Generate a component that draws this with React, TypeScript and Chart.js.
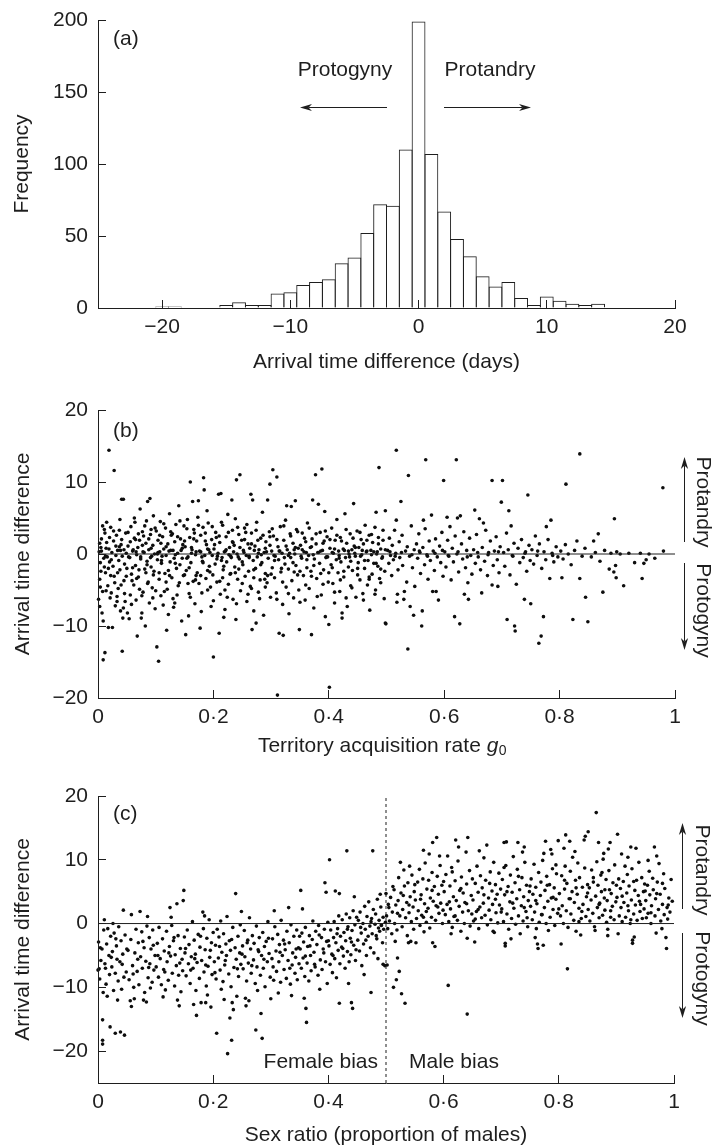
import React, { useEffect, useRef } from 'react';
import { Chart, registerables } from 'chart.js';

Chart.register(...registerables);

const FONT_FAMILY = '"Liberation Sans", Arial, Helvetica, sans-serif';
const FONT_SIZE = 21;
const INK = '#1e1e1e';
const DOT = '#0d0d0d';

// ---------------- data ----------------
const histBinCenters = [-20, -19, -18, -17, -16, -15, -14, -13, -12, -11, -10, -9, -8, -7, -6, -5, -4, -3, -2, -1, 0, 1, 2, 3, 4, 5, 6, 7, 8, 9, 10, 11, 12, 13, 14, 15, 16, 17, 18, 19];
const histCounts = [1, 1, 0, 0, 0, 2, 4, 2, 2, 10, 11, 16, 18, 20, 31, 35, 52, 72, 71, 110, 199, 107, 67, 48, 36, 22, 15, 18, 7, 2, 8, 5, 3, 2, 3, 0, 0, 0, 0, 0];
const histXTicks = [-20, -10, 0, 10, 20];
const histYTicks = [0, 50, 100, 150, 200];
const histXRange = [-25, 20];
const histYRange = [0, 200];

const rateTicks = [0, 0.2, 0.4, 0.6, 0.8, 1];
const diffTicks = [-20, -10, 0, 10, 20];
const diffRangeB = [-20, 20];
const diffRangeC = [-25, 20];
const zeroLine = [[0, 0], [1, 0]];
const evenSexRatioLine = [[0.5, -25], [0.5, 20]];

// (b) territory acquisition rate g0 vs arrival time difference
const panelBPoints = [
  [0.002,0.3],[0.004,-1.2],[0.006,2.1],[0.003,-3.5],[0.008,-5.2],[0.001,-6.3],[0.003,-7.3],[0.007,-8.2],[0.009,-9.3],[0.012,-13.7],[0.009,-14.7],[0.018,-10.2],[0.025,-10.2],[0.019,14.4],[0.028,11.6],[0.011,3.4],[0.014,0.8],[0.016,-0.4],[0.013,-2.6],[0.017,-4.4],[0.021,-6.1],[0.015,1.6],[0.022,3.7],[0.024,0.2],[0.026,-1.7],[0.028,-3.1],[0.023,-5.4],[0.03,-7.2],[0.032,2.6],[0.034,0.5],[0.036,-0.9],[0.038,-2.2],[0.035,-4.8],[0.041,7.6],[0.044,7.6],[0.04,1.3],[0.042,-0.3],[0.045,-3.7],[0.047,-6.6],[0.043,-8.9],[0.042,-13.5],[0.048,2.9],[0.049,0.1],[0.046,-1.4],[0.005,0.9],[0.01,-0.6],[0.02,-1.1],[0.027,1.8],[0.033,-5.9],[0.039,-7.9],[0.044,-7.5],[0.037,3.3],
  [0.051,-8.2],[0.054,-9],[0.052,1.1],[0.055,-0.5],[0.057,3.8],[0.058,-2.8],[0.06,0.4],[0.062,-4.3],[0.063,2.2],[0.065,-1.6],[0.066,-6.4],[0.068,-11.4],[0.069,0.9],[0.07,-3.2],[0.073,6.25],[0.072,1.9],[0.074,-0.7],[0.075,-8.9],[0.076,-8.2],[0.077,3.1],[0.078,-5.3],[0.08,0.2],[0.082,-10],[0.081,-2.1],[0.083,1.5],[0.084,4.6],[0.086,7.3],[0.085,-1.0],[0.087,-3.9],[0.088,0.6],[0.09,7.7],[0.089,-6.8],[0.091,2.7],[0.093,-0.3],[0.094,-4.7],[0.095,1.2],[0.096,5.3],[0.097,-2.4],[0.098,0.0],[0.099,-7.6],[0.056,-5.7],[0.064,4.4],[0.071,-2.2],[0.079,2.5],[0.092,-1.8],
  [0.102,-12.9],[0.105,-14.9],[0.101,3.2],[0.103,-0.8],[0.104,1.9],[0.106,-3.5],[0.107,0.3],[0.108,4.5],[0.109,-5.8],[0.11,-1.3],[0.112,2.4],[0.113,-7.1],[0.114,0.7],[0.116,-2.7],[0.117,3.6],[0.118,-0.2],[0.12,-4.9],[0.121,1.4],[0.122,-8.4],[0.124,5.6],[0.125,-1.1],[0.126,0.5],[0.128,-3.3],[0.129,2.8],[0.13,-6.2],[0.132,-0.6],[0.133,1.7],[0.135,4.1],[0.136,-2.0],[0.138,0.1],[0.139,-4.4],[0.14,6.7],[0.142,-1.5],[0.143,2.1],[0.145,-9.3],[0.146,0.8],[0.148,-3.0],[0.149,3.9],[0.119,-10.6],[0.131,-7.4],
  [0.152,-11.2],[0.16,10],[0.164,7.3],[0.174,7.4],[0.151,1.0],[0.153,-2.3],[0.155,4.8],[0.156,-0.4],[0.158,-5.5],[0.159,2.3],[0.161,-1.2],[0.163,0.6],[0.165,-3.8],[0.166,3.4],[0.168,-6.9],[0.169,-0.1],[0.171,1.8],[0.172,-2.6],[0.173,5.1],[0.175,-4.1],[0.176,0.4],[0.178,2.6],[0.179,-8.0],[0.181,-1.0],[0.183,10.6],[0.184,8.9],[0.182,3.7],[0.185,-0.2],[0.187,-3.4],[0.188,1.3],[0.19,-5.0],[0.191,4.3],[0.193,-1.7],[0.194,0.2],[0.196,-7.3],[0.197,2.0],[0.199,-2.9],[0.2,-14.3],[0.157,-8.6],[0.177,-10.3],[0.189,6.0],
  [0.21,-11],[0.209,8.3],[0.213,8.4],[0.232,7.5],[0.24,10.3],[0.246,11],[0.201,0.7],[0.203,-1.4],[0.204,3.0],[0.206,-3.9],[0.207,-0.3],[0.211,1.6],[0.212,-5.6],[0.214,-0.9],[0.216,4.0],[0.217,-2.2],[0.219,0.3],[0.22,-7.7],[0.222,2.4],[0.223,-1.1],[0.225,5.5],[0.226,-4.2],[0.228,0.9],[0.229,-2.8],[0.231,-0.5],[0.233,3.3],[0.234,-6.3],[0.236,1.2],[0.237,-1.8],[0.239,-9.1],[0.241,0.0],[0.242,-3.5],[0.244,2.7],[0.245,-0.7],[0.247,-5.1],[0.249,1.9],[0.218,-8.8],[0.238,4.9],
  [0.265,8.3],[0.268,7.5],[0.267,-10.5],[0.294,7.5],[0.298,9.7],[0.251,-1.5],[0.252,0.5],[0.254,3.6],[0.255,-3.1],[0.257,-0.2],[0.258,-6.6],[0.26,1.4],[0.261,-2.4],[0.263,0.8],[0.264,-4.5],[0.266,2.9],[0.269,-0.9],[0.27,-7.9],[0.272,1.1],[0.273,-2.0],[0.275,4.4],[0.276,-0.4],[0.278,-5.3],[0.279,0.6],[0.281,-3.6],[0.282,2.2],[0.284,-1.2],[0.285,5.8],[0.287,-8.5],[0.288,0.2],[0.29,-2.7],[0.291,1.7],[0.293,-4.0],[0.295,-0.6],[0.297,3.1],[0.299,-6.0],[0.274,-9.6],
  [0.303,11.7],[0.31,10.7],[0.311,-19.6],[0.314,-11],[0.321,-11.3],[0.327,6.7],[0.335,6.6],[0.342,7.4],[0.349,-10.5],[0.301,0.4],[0.302,-1.9],[0.304,2.5],[0.306,-3.3],[0.307,-0.3],[0.309,-5.4],[0.312,1.0],[0.313,-0.8],[0.316,3.8],[0.317,-2.5],[0.319,0.1],[0.32,-7.0],[0.322,1.9],[0.324,-1.4],[0.325,4.7],[0.326,-4.6],[0.328,0.6],[0.33,-2.1],[0.331,-8.3],[0.333,2.8],[0.334,-0.5],[0.336,-3.7],[0.338,1.5],[0.339,-6.1],[0.341,0.0],[0.343,-1.6],[0.344,3.4],[0.346,-2.9],[0.347,0.8],[0.348,-5.0],
  [0.372,7.5],[0.382,6.9],[0.377,11],[0.388,11.8],[0.393,5.9],[0.37,-11.2],[0.4,-9.8],[0.351,1.2],[0.353,-0.6],[0.354,2.9],[0.356,-3.0],[0.357,0.3],[0.359,-6.4],[0.36,1.7],[0.362,-1.9],[0.363,4.3],[0.365,-0.2],[0.366,-4.8],[0.368,0.9],[0.369,-2.4],[0.371,2.1],[0.374,-7.5],[0.375,-0.7],[0.378,1.4],[0.379,-3.4],[0.381,0.2],[0.384,-1.3],[0.385,3.0],[0.387,-5.7],[0.389,0.5],[0.391,-2.2],[0.392,1.8],[0.394,-8.7],[0.396,-0.4],[0.397,2.4],[0.399,-3.9],
  [0.401,-18.5],[0.443,7],[0.423,-8.2],[0.423,-8.9],[0.402,0.8],[0.404,-1.5],[0.405,3.6],[0.407,-4.1],[0.408,0.1],[0.41,-6.8],[0.411,1.9],[0.413,-0.8],[0.414,4.8],[0.416,-2.6],[0.417,0.4],[0.419,-5.2],[0.42,2.3],[0.421,-1.1],[0.425,0.7],[0.426,-3.2],[0.428,5.6],[0.429,-0.5],[0.431,1.5],[0.432,-7.3],[0.434,-1.8],[0.435,0.0],[0.437,2.8],[0.438,-4.4],[0.44,0.6],[0.441,-2.3],[0.444,1.1],[0.446,-0.3],[0.447,-6.0],[0.449,3.2],
  [0.487,12],[0.498,6],[0.482,5.8],[0.498,-9.6],[0.499,-9.7],[0.451,-1.2],[0.452,0.9],[0.454,-3.6],[0.456,2.0],[0.457,-0.1],[0.459,-5.5],[0.46,1.4],[0.462,-2.0],[0.463,4.0],[0.465,0.3],[0.467,-4.3],[0.468,-0.9],[0.47,2.6],[0.471,-7.8],[0.473,0.5],[0.475,-2.8],[0.476,1.6],[0.478,-1.3],[0.48,3.7],[0.481,-5.0],[0.483,0.0],[0.485,-1.7],[0.486,2.3],[0.488,-3.4],[0.49,0.7],[0.492,-0.6],[0.494,1.9],[0.496,-6.2],[0.497,-2.4],
  [0.517,14.4],[0.538,10.9],[0.525,7.3],[0.517,4.7],[0.537,-13.2],[0.547,-8.5],[0.541,-7.3],[0.53,-6.3],[0.531,-5.2],[0.518,-6.7],[0.519,-5.6],[0.502,0.5],[0.504,-1.3],[0.505,2.2],[0.507,-0.2],[0.509,-3.0],[0.51,1.2],[0.512,-0.8],[0.514,3.3],[0.516,0.1],[0.52,-2.2],[0.522,1.7],[0.523,-0.5],[0.527,2.6],[0.528,-1.6],[0.533,0.4],[0.535,-3.9],[0.536,1.0],[0.54,-0.3],[0.543,3.9],[0.545,-1.9],[0.548,0.6],[0.549,-4.5],
  [0.568,13.1],[0.599,10.2],[0.564,4.7],[0.561,-10],[0.562,-7.9],[0.58,-5.2],[0.586,-5.2],[0.552,1.4],[0.554,-0.6],[0.556,2.8],[0.558,0.2],[0.559,-2.7],[0.563,0.9],[0.566,-1.5],[0.567,3.5],[0.57,-0.1],[0.572,-3.5],[0.574,1.8],[0.576,-0.9],[0.578,5.4],[0.581,0.4],[0.583,-2.3],[0.585,2.1],[0.588,-0.4],[0.59,-6.4],[0.592,1.1],[0.594,-1.2],[0.596,3.0],[0.598,-3.1],
  [0.621,13.1],[0.605,5.1],[0.623,5],[0.628,5.3],[0.618,-8.7],[0.627,-9.7],[0.635,-5.6],[0.642,-6.3],[0.653,6.1],[0.601,0.3],[0.603,-1.8],[0.606,1.9],[0.608,-0.3],[0.61,3.8],[0.612,-3.6],[0.614,0.8],[0.616,-1.1],[0.619,2.5],[0.622,0.0],[0.625,-2.5],[0.63,1.4],[0.632,-0.7],[0.634,3.1],[0.637,-1.9],[0.639,0.5],[0.641,-4.0],[0.644,2.2],[0.646,-0.2],[0.648,-2.8],
  [0.683,10.2],[0.668,4.3],[0.665,-5.4],[0.683,-4.3],[0.693,-4.5],[0.699,7.2],[0.651,0.6],[0.654,-1.3],[0.656,2.7],[0.659,-0.4],[0.661,4.9],[0.663,-2.2],[0.666,0.9],[0.67,-1.0],[0.672,3.3],[0.675,-3.0],[0.677,0.2],[0.68,1.8],[0.685,-1.6],[0.687,0.4],[0.69,2.4],[0.692,-0.8],[0.695,-2.6],[0.697,1.0],
  [0.701,10.2],[0.712,6],[0.709,-9.1],[0.722,-10],[0.723,-10.7],[0.739,-6.3],[0.745,8.2],[0.75,-6.9],[0.703,0.2],[0.705,-1.7],[0.708,2.9],[0.711,0.6],[0.714,-2.9],[0.716,3.9],[0.719,-0.3],[0.721,1.5],[0.725,-4.2],[0.728,0.8],[0.731,-1.2],[0.734,2.0],[0.737,-0.5],[0.741,0.3],[0.743,-2.4],[0.747,1.2],[0.749,-0.9],
  [0.764,-12.4],[0.768,-11.4],[0.772,-8.7],[0.777,3.8],[0.785,4.7],[0.783,-3.4],[0.752,0.6],[0.755,-1.4],[0.758,2.5],[0.761,-0.2],[0.765,1.4],[0.769,-2.0],[0.773,0.3],[0.776,-0.8],[0.78,2.0],[0.787,0.1],[0.79,-1.1],[0.794,1.0],[0.797,-0.4],
  [0.811,9.7],[0.835,13.9],[0.804,-3.3],[0.823,-9.1],[0.835,-3.4],[0.845,-6],[0.849,-9.4],[0.802,0.4],[0.806,-0.7],[0.81,1.3],[0.815,0.0],[0.82,-1.5],[0.826,0.5],[0.83,1.8],[0.839,-0.3],[0.844,0.8],
  [0.859,1.8],[0.867,2.8],[0.875,-5.3],[0.886,-2.1],[0.894,-2.5],[0.898,-3.3],[0.897,-1.6],[0.895,4.9],[0.855,-0.4],[0.862,0.2],[0.87,-1.0],[0.878,0.5],[0.889,0.1],[0.899,0.3],
  [0.911,-4.4],[0.905,0.0],[0.92,0.1],[0.943,-3.4],[0.946,-1.3],[0.95,-0.8],[0.94,0.1],[0.955,0.0],[0.979,9.2],[0.98,0.4],[0.965,-0.6],[0.93,-1.2],
  [0.006,0.4],[0.013,-0.3],[0.019,0.7],[0.031,-0.2],[0.039,0.5],[0.053,-0.4],[0.061,0.6],[0.067,-0.1],[0.078,0.3],[0.091,-0.5],[0.104,0.2],[0.111,-0.3],[0.123,0.4],[0.134,-0.1],[0.144,0.5],[0.154,-0.6],[0.162,0.1],[0.17,0.3],[0.18,-0.4],[0.192,0.6],[0.198,-0.2],[0.208,0.1],[0.215,-0.5],[0.221,0.4],[0.227,-0.1],[0.235,0.3],[0.243,-0.4],[0.253,0.2],[0.262,-0.3],[0.271,0.5],[0.283,-0.1],[0.292,0.3],[0.305,-0.2],[0.315,0.4],[0.323,-0.5],[0.332,0.1],[0.34,0.6],[0.352,-0.3],[0.361,0.2],[0.373,-0.1],[0.386,0.4],[0.395,-0.5],[0.406,0.2],[0.418,-0.2],[0.427,0.5],[0.436,-0.4],[0.445,0.1],[0.455,-0.3],[0.466,0.4],[0.474,-0.1],[0.484,0.3],[0.493,-0.4],[0.506,0.3],[0.515,-0.3],[0.526,0.2],[0.544,-0.1],[0.557,0.4],[0.571,-0.3],[0.584,0.1],[0.597,0.5],[0.607,-0.2],[0.624,0.3],[0.64,-0.4],[0.658,0.2],[0.676,-0.1],[0.694,0.3],[0.718,-0.2],[0.74,0.1],[0.762,0.4],[0.788,-0.2],
  [0.004,-4.6],[0.012,2.9],[0.018,-2.0],[0.029,-4.0],[0.037,1.0],[0.046,-5.5],[0.059,-3.7],[0.065,2.0],[0.072,-4.9],[0.083,-2.6],[0.092,3.4],[0.1,-5.1],[0.109,1.5],[0.118,-3.9],[0.127,2.6],[0.137,-5.7],[0.147,1.3],[0.156,-4.1],[0.167,2.9],[0.178,-3.0],[0.186,1.8],[0.195,-4.6],[0.205,2.3],[0.216,-3.3],[0.224,-6.0],[0.233,1.7],[0.244,-2.1],[0.256,3.0],[0.266,-4.8],[0.277,1.9],[0.289,-3.5],[0.298,2.4],
  [0.003,1.5],[0.008,3.9],[0.011,-1.8],[0.015,4.4],[0.02,2.3],[0.023,-0.8],[0.027,3.2],[0.031,1.1],[0.034,-2.6],[0.038,4.8],[0.041,2.0],[0.045,0.6],[0.049,-3.1],[0.052,3.0],[0.056,1.7],[0.06,-1.9],[0.063,5.0],[0.066,0.3],[0.07,2.8],[0.074,-0.4],[0.077,1.2],[0.081,3.9],[0.085,-1.5],[0.088,2.1],[0.092,0.8],[0.096,-2.9],[0.099,3.6],[0.103,0.0],[0.107,2.6],[0.11,-0.9],[0.114,4.2],[0.118,1.0],[0.122,-2.3],[0.126,3.1],[0.13,0.5],[0.134,-1.3],[0.138,2.4],[0.142,4.6],[0.146,-0.6],[0.15,1.8],[0.154,3.5],[0.158,-1.9],[0.162,0.9],[0.166,2.1],[0.17,-3.0],[0.174,4.0],[0.178,0.3],[0.182,-1.2],[0.186,2.9],[0.19,0.7],[0.194,-2.5],[0.198,3.8],[0.202,1.3],[0.206,-0.7],[0.21,2.5],[0.214,4.4],[0.218,-1.7],[0.222,0.6],[0.226,3.0],[0.23,-0.3],[0.234,1.6],[0.238,-2.6],[0.242,3.7],[0.246,0.9],[0.25,-1.1],[0.254,2.0],[0.258,4.1],[0.262,-0.5],[0.266,1.4],[0.27,-2.2],[0.274,3.3],[0.278,0.1],[0.282,-1.5],[0.286,2.6],[0.29,0.8],[0.294,-3.0],[0.298,1.2],[0.302,3.5],[0.306,-0.9],[0.31,2.0],[0.314,0.4],[0.318,-2.0],[0.322,3.9],[0.326,1.1],[0.33,-0.2],[0.334,2.5],[0.338,-1.2],[0.342,0.9],[0.346,3.1],[0.35,-2.4],[0.354,0.6],[0.358,2.2],[0.362,-0.8],[0.366,3.6],[0.37,1.0],[0.374,-1.6],[0.378,2.8],[0.382,0.2],[0.386,-2.7],[0.39,1.5],[0.394,3.2],[0.398,-0.4],[0.402,2.0],[0.406,-1.9],[0.41,0.7],[0.414,2.6],[0.418,-0.6],[0.422,1.8],[0.426,-2.4],[0.43,3.4],[0.434,0.4],[0.438,-1.0],[0.442,2.2],[0.446,0.9],[0.45,-2.0],[0.454,3.0],[0.458,0.5],[0.462,-0.9],[0.466,1.9],[0.47,-3.2],[0.474,2.7],[0.478,0.3],[0.482,-1.3],[0.486,1.4],[0.49,-2.1],[0.494,3.3],[0.498,0.6],
  [0.005,-2.4],[0.014,-5.1],[0.022,-3.0],[0.033,-6.6],[0.04,-4.3],[0.05,-2.0],[0.058,-7.0],[0.067,-3.4],[0.076,-5.8],[0.086,-4.1],[0.095,-6.1],[0.106,-2.6],[0.115,-5.2],[0.124,-3.0],[0.133,-6.8],[0.141,-4.0],[0.15,-2.9],[0.16,-6.0],[0.169,-3.6],[0.18,-5.4],[0.19,-2.3],[0.2,-6.5],[0.211,-3.8],[0.22,-5.0],[0.23,-2.7],[0.24,-6.9],[0.25,-4.1],[0.26,-5.6],[0.27,-3.3],[0.28,-6.2],[0.29,-4.6],[0.3,-2.8],[0.31,-6.3],[0.32,-3.9],[0.33,-5.5],[0.34,-2.5],[0.35,-6.7],[0.36,-4.3],[0.37,-3.1],[0.38,-5.9],[0.39,-4.2],[0.4,-2.6],[0.41,-5.3],[0.42,-3.6],[0.43,-6.1],[0.44,-4.7],[0.45,-2.9],[0.46,-6.4],[0.47,-3.5],[0.48,-5.6],[0.49,-4.0],
];

// (c) sex ratio (proportion of males) vs arrival time difference
const panelCPoints = [
  [0.008,-18.3],[0.008,-18.9],[0.008,-15.1],[0.021,-16.2],[0.03,-17.2],[0.039,-17],[0.046,-17.5],[0.001,-2.9],[0.002,-7.1],[0.0,-7.3],[0.003,-8.7],[0.009,-10.8],[0.011,0.6],[0.044,2.1],[0.005,-5.8],[0.007,-4.0],[0.01,-1.0],[0.012,-6.3],[0.014,-9.5],[0.015,-3.2],[0.017,-0.8],[0.019,-5.0],[0.02,-8.0],[0.022,-2.0],[0.024,-6.8],[0.025,-4.4],[0.027,-10.5],[0.028,-1.5],[0.03,-7.8],[0.032,-3.5],[0.033,-5.6],[0.035,-9.0],[0.036,-0.5],[0.038,-6.0],[0.04,-2.7],[0.041,-10.3],[0.043,-4.8],[0.045,-8.4],[0.047,-1.8],[0.049,-7.6],[0.016,-11.4],[0.026,0.0],[0.034,-12.0],
  [0.058,1.4],[0.073,1.9],[0.086,1.1],[0.056,-12.1],[0.058,-13],[0.084,-12.3],[0.079,-12],[0.052,-4.2],[0.054,-8.8],[0.057,-2.5],[0.06,-6.6],[0.062,-10.0],[0.064,-4.6],[0.066,-0.9],[0.068,-7.5],[0.07,-3.0],[0.071,-9.6],[0.074,-5.2],[0.076,-1.3],[0.077,-7.0],[0.08,-3.8],[0.081,-10.8],[0.083,-5.9],[0.085,-0.4],[0.087,-8.5],[0.089,-2.2],[0.09,-6.3],[0.092,-4.0],[0.094,-9.2],[0.095,-1.0],[0.097,-7.3],[0.099,-5.0],[0.063,-11.8],[0.091,-10.1],
  [0.125,2.5],[0.137,3.1],[0.149,5.2],[0.148,3.6],[0.138,-12],[0.141,-12.9],[0.101,-6.8],[0.103,-3.1],[0.105,-8.4],[0.106,-0.6],[0.108,-5.5],[0.11,-9.6],[0.112,-2.4],[0.114,-7.2],[0.115,-4.3],[0.117,-10.4],[0.119,-1.2],[0.12,-6.0],[0.122,-8.9],[0.124,-3.6],[0.126,-5.1],[0.128,-0.3],[0.129,-7.8],[0.131,-2.7],[0.133,-9.8],[0.134,-4.9],[0.136,-6.6],[0.139,-1.9],[0.14,-8.1],[0.143,-3.9],[0.144,-10.7],[0.146,-5.6],[0.147,-7.4],[0.15,-2.1],[0.113,-11.5],[0.127,1.0],
  [0.171,-14.4],[0.182,1.8],[0.179,-12.4],[0.187,-12.4],[0.196,-13.1],[0.19,-11.2],[0.151,-4.6],[0.153,-8.2],[0.155,-1.0],[0.157,-6.3],[0.158,-3.3],[0.16,-9.4],[0.162,-5.2],[0.164,0.3],[0.165,-7.0],[0.167,-2.6],[0.169,-4.8],[0.17,-10.5],[0.172,-6.1],[0.174,-1.7],[0.176,-8.6],[0.177,-3.7],[0.18,-5.8],[0.183,-0.8],[0.184,-7.6],[0.186,-4.1],[0.188,-9.8],[0.189,-2.3],[0.191,-6.7],[0.193,0.6],[0.194,-5.3],[0.197,-3.0],[0.198,-8.0],[0.2,-1.4],[0.166,-12.7],[0.185,1.2],
  [0.206,-17.2],[0.225,-20.4],[0.232,-18.3],[0.235,-13.5],[0.233,-12.4],[0.241,-11.4],[0.214,-10.3],[0.239,4.7],[0.249,1.9],[0.202,-6.0],[0.204,-3.4],[0.205,-8.7],[0.207,-0.9],[0.209,-5.4],[0.21,-2.1],[0.212,-7.3],[0.213,0.4],[0.215,-4.5],[0.217,-9.1],[0.218,-1.6],[0.22,-6.5],[0.222,-3.2],[0.223,-5.0],[0.224,1.1],[0.227,-7.9],[0.228,-2.7],[0.23,-4.2],[0.231,-9.9],[0.234,-0.6],[0.236,-6.9],[0.238,-3.8],[0.24,-5.6],[0.243,-2.0],[0.244,-8.3],[0.246,-4.6],[0.247,-0.2],[0.248,-6.4],[0.219,-11.9],[0.229,-14.8],
  [0.256,-11.7],[0.257,-12.9],[0.274,-16.7],[0.285,-18],[0.283,-14.1],[0.277,-10.5],[0.3,-11.8],[0.251,-3.5],[0.252,-7.1],[0.254,-1.1],[0.255,-5.2],[0.258,-9.0],[0.26,-2.6],[0.261,-6.2],[0.263,0.9],[0.265,-4.0],[0.266,-7.8],[0.268,-1.9],[0.27,-5.7],[0.271,-3.1],[0.273,-9.4],[0.275,-0.4],[0.276,-6.8],[0.279,-4.4],[0.28,-2.2],[0.282,-8.1],[0.284,-5.0],[0.286,-1.4],[0.287,-7.0],[0.289,-3.6],[0.29,-9.9],[0.292,-2.8],[0.294,-6.0],[0.295,0.3],[0.297,-4.7],[0.299,-8.4],[0.262,-12.1],
  [0.306,2],[0.331,2.5],[0.302,-5.5],[0.303,-2.4],[0.305,-8.9],[0.307,-0.5],[0.309,-4.3],[0.31,-7.5],[0.312,-1.7],[0.314,-6.0],[0.315,-3.3],[0.317,-9.2],[0.318,0.5],[0.32,-5.0],[0.322,-2.6],[0.323,-7.2],[0.325,-4.1],[0.327,-8.6],[0.328,-1.2],[0.33,-5.8],[0.332,-3.0],[0.334,-9.5],[0.335,-0.2],[0.337,-6.5],[0.338,-4.6],[0.34,-2.0],[0.342,-7.8],[0.343,-5.3],[0.345,-1.0],[0.346,-8.8],[0.348,-3.8],[0.349,-6.3],[0.313,-10.9],[0.336,-11.3],
  [0.352,5.2],[0.355,2.3],[0.394,6.4],[0.396,4.9],[0.361,-13.3],[0.358,-11.7],[0.362,-15.5],[0.385,-10.3],[0.351,-4.0],[0.353,-7.0],[0.354,-1.5],[0.356,-5.4],[0.357,-2.9],[0.359,-8.3],[0.36,-0.6],[0.363,-6.2],[0.364,-3.6],[0.366,-9.0],[0.367,-1.9],[0.369,-5.0],[0.37,-7.4],[0.372,-2.5],[0.373,0.4],[0.375,-4.5],[0.377,-6.8],[0.378,-1.2],[0.38,-3.3],[0.382,-8.1],[0.383,-0.3],[0.386,-5.7],[0.388,-2.2],[0.389,-7.2],[0.391,-4.0],[0.393,-0.9],[0.395,-6.0],[0.397,-2.8],[0.398,-9.4],[0.399,0.2],
  [0.402,10],[0.412,5.1],[0.419,4.7],[0.432,11.4],[0.445,4.2],[0.419,-12.5],[0.44,-12.4],[0.442,-13.3],[0.401,-3.5],[0.403,-6.4],[0.404,-1.0],[0.406,-4.8],[0.407,-7.7],[0.409,-2.2],[0.41,0.3],[0.411,-5.5],[0.413,-3.0],[0.414,-8.5],[0.416,-0.8],[0.417,-4.2],[0.418,1.2],[0.42,-6.3],[0.421,-2.0],[0.423,-3.7],[0.424,0.6],[0.426,-5.1],[0.427,-1.4],[0.429,-7.0],[0.43,-2.7],[0.431,1.5],[0.433,-4.4],[0.434,-0.5],[0.436,-6.0],[0.437,0.9],[0.438,-2.3],[0.439,-4.9],[0.441,-1.1],[0.443,2.0],[0.444,-3.4],[0.446,-0.2],[0.447,-5.8],[0.449,1.0],[0.435,-9.4],
  [0.477,11.4],[0.49,4.6],[0.5,4.7],[0.474,-10.8],[0.451,-2.6],[0.452,0.5],[0.454,-4.3],[0.455,1.8],[0.457,-1.5],[0.458,-6.6],[0.46,0.0],[0.461,-3.2],[0.463,2.7],[0.464,-0.9],[0.466,-5.0],[0.467,1.1],[0.469,-2.0],[0.47,3.4],[0.472,-0.4],[0.473,-3.8],[0.475,0.8],[0.476,-1.6],[0.478,2.2],[0.479,-4.6],[0.481,-0.1],[0.482,1.5],[0.484,-2.4],[0.485,3.8],[0.487,-0.7],[0.488,0.5],[0.489,-1.2],[0.491,2.6],[0.492,-0.3],[0.494,-3.0],[0.495,1.0],[0.496,-0.9],[0.498,-6.6],[0.499,0.2],[0.462,-8.0],[0.486,-5.5],
  [0.533,-12.5],[0.527,-11],[0.513,-10],[0.518,-8.8],[0.523,-7.5],[0.52,-5.4],[0.502,-6.5],[0.495,-6.4],[0.539,-3],[0.543,-2.8],[0.552,-3],[0.501,1.2],[0.503,-0.8],[0.505,2.5],[0.506,0.4],[0.508,4.1],[0.51,-1.6],[0.511,1.8],[0.514,5.3],[0.515,0.0],[0.517,2.9],[0.519,-1.0],[0.521,3.6],[0.522,7.2],[0.524,1.2],[0.526,4.8],[0.528,-0.5],[0.529,2.2],[0.531,8.4],[0.532,5.9],[0.534,0.9],[0.536,3.3],[0.537,-1.9],[0.538,6.4],[0.54,1.7],[0.541,9.0],[0.542,4.2],[0.544,0.3],[0.545,7.6],[0.547,2.6],[0.548,-0.9],[0.549,5.0],[0.516,-2.8],[0.525,9.6],
  [0.565,11.5],[0.581,12.7],[0.588,13.5],[0.593,10.6],[0.581,-3],[0.585,-3.6],[0.566,-1.3],[0.551,3.7],[0.553,0.8],[0.555,6.5],[0.556,2.0],[0.558,8.5],[0.559,-0.3],[0.561,4.5],[0.562,1.3],[0.564,7.0],[0.567,3.1],[0.568,9.5],[0.57,0.2],[0.571,5.4],[0.573,2.4],[0.574,6.8],[0.576,-0.7],[0.577,4.0],[0.579,1.0],[0.58,8.0],[0.582,3.5],[0.584,5.8],[0.586,0.5],[0.587,2.8],[0.589,7.4],[0.591,4.6],[0.592,1.6],[0.594,9.1],[0.595,3.2],[0.597,6.0],[0.598,0.0],[0.599,2.1],[0.575,10.9],
  [0.607,10.6],[0.621,13.1],[0.642,13.5],[0.608,-9.7],[0.641,-14.2],[0.641,-2.3],[0.601,5.0],[0.603,1.4],[0.604,7.7],[0.606,3.0],[0.609,0.3],[0.611,5.9],[0.612,2.3],[0.614,8.8],[0.615,-0.6],[0.617,4.2],[0.618,1.1],[0.62,6.7],[0.622,3.6],[0.624,0.5],[0.625,9.8],[0.627,2.7],[0.628,5.2],[0.63,-1.2],[0.631,7.3],[0.633,1.8],[0.634,4.8],[0.636,0.0],[0.637,3.3],[0.639,11.2],[0.64,6.2],[0.643,2.0],[0.645,8.3],[0.646,-0.4],[0.648,4.4],[0.649,1.5],[0.613,-1.6],[0.626,12.0],
  [0.675,12.3],[0.654,-2.9],[0.651,3.7],[0.652,0.4],[0.655,6.3],[0.657,1.9],[0.658,9.0],[0.66,4.9],[0.661,-0.8],[0.663,2.6],[0.664,7.5],[0.666,0.9],[0.667,5.6],[0.669,3.2],[0.67,10.3],[0.672,1.3],[0.673,6.8],[0.676,-0.2],[0.678,4.0],[0.679,2.1],[0.681,8.1],[0.682,0.6],[0.684,5.1],[0.685,3.0],[0.687,9.6],[0.688,-1.4],[0.69,6.1],[0.691,1.7],[0.693,4.6],[0.694,0.1],[0.696,7.9],[0.697,2.9],[0.699,5.4],[0.662,11.4],[0.686,-1.2],
  [0.705,12.7],[0.709,12.8],[0.729,12.7],[0.74,12],[0.707,-3.1],[0.707,-3.5],[0.701,2.3],[0.702,6.9],[0.704,0.3],[0.706,4.5],[0.708,9.1],[0.71,1.5],[0.712,5.8],[0.713,-0.9],[0.715,3.4],[0.716,7.6],[0.718,0.8],[0.719,4.9],[0.721,10.5],[0.722,2.4],[0.724,6.4],[0.725,-0.1],[0.727,3.9],[0.728,8.5],[0.73,1.2],[0.732,5.3],[0.733,-1.6],[0.735,2.8],[0.736,7.2],[0.738,0.4],[0.739,4.2],[0.741,9.6],[0.743,1.9],[0.744,6.0],[0.746,-0.5],[0.747,3.6],[0.749,5.0],[0.717,-2.4],[0.737,11.2],
  [0.777,12.9],[0.799,13],[0.774,11],[0.788,10.9],[0.764,-3.9],[0.773,-3.4],[0.763,-3.2],[0.751,2.7],[0.752,7.0],[0.754,0.6],[0.755,4.6],[0.757,9.3],[0.758,1.8],[0.76,5.7],[0.761,-0.8],[0.762,3.1],[0.765,8.0],[0.766,0.2],[0.768,4.4],[0.769,6.5],[0.771,1.4],[0.772,9.9],[0.775,2.5],[0.776,5.2],[0.778,0.0],[0.779,7.4],[0.781,3.5],[0.782,-1.1],[0.784,6.1],[0.785,1.0],[0.787,4.0],[0.789,8.6],[0.79,2.2],[0.792,5.6],[0.793,-0.3],[0.795,3.8],[0.796,7.8],[0.798,1.6],[0.759,-2.2],[0.786,11.6],
  [0.812,13.9],[0.819,12.9],[0.844,13.1],[0.851,14.4],[0.846,13.7],[0.809,11.8],[0.804,-3.2],[0.815,-7.1],[0.838,-1.8],[0.801,4.7],[0.803,1.2],[0.805,7.5],[0.806,2.8],[0.808,0.0],[0.81,5.4],[0.811,9.0],[0.813,2.0],[0.814,6.3],[0.816,-0.6],[0.818,3.9],[0.82,8.2],[0.821,1.5],[0.823,5.0],[0.824,10.4],[0.826,0.5],[0.827,3.3],[0.829,6.8],[0.83,-1.2],[0.832,4.6],[0.833,9.5],[0.835,2.4],[0.836,7.2],[0.839,0.8],[0.841,5.7],[0.842,3.0],[0.845,8.7],[0.847,1.1],[0.848,4.2],[0.85,6.1],[0.828,11.3],
  [0.865,17.4],[0.869,12.7],[0.889,12.7],[0.902,14],[0.886,11.7],[0.863,-1.1],[0.885,-1.9],[0.885,-0.9],[0.851,2.2],[0.853,5.6],[0.854,0.4],[0.856,3.7],[0.857,8.4],[0.859,1.6],[0.86,6.5],[0.862,-0.5],[0.864,4.3],[0.866,9.7],[0.867,2.5],[0.868,6.0],[0.87,0.9],[0.871,3.2],[0.873,7.6],[0.874,5.0],[0.876,1.3],[0.877,10.1],[0.879,4.0],[0.88,2.1],[0.882,6.9],[0.883,0.2],[0.884,3.6],[0.887,8.3],[0.888,5.3],[0.89,1.0],[0.891,4.7],[0.893,2.7],[0.894,6.4],[0.896,0.6],[0.897,9.2],[0.899,3.4],[0.878,11.0],
  [0.909,10.9],[0.925,12],[0.934,11.8],[0.928,-3.1],[0.928,-2.6],[0.931,-2.1],[0.903,-1.6],[0.901,4.1],[0.904,7.0],[0.905,1.2],[0.907,5.5],[0.908,2.5],[0.91,0.3],[0.912,6.6],[0.913,3.3],[0.915,9.0],[0.916,1.0],[0.918,4.8],[0.919,7.7],[0.921,2.0],[0.922,5.9],[0.924,0.0],[0.926,3.7],[0.927,8.6],[0.93,1.5],[0.932,5.2],[0.933,2.9],[0.935,6.8],[0.936,0.5],[0.938,4.4],[0.939,9.6],[0.941,1.9],[0.942,3.0],[0.944,7.2],[0.945,0.8],[0.947,5.0],[0.948,2.3],[0.949,6.2],[0.92,10.4],
  [0.966,12],[0.97,10.6],[0.987,-3.9],[0.951,3.6],[0.952,0.9],[0.954,6.0],[0.955,1.6],[0.957,8.2],[0.958,4.5],[0.96,0.0],[0.961,2.8],[0.963,7.1],[0.964,5.3],[0.967,1.2],[0.968,3.9],[0.969,-1.5],[0.971,6.5],[0.973,2.2],[0.974,9.4],[0.976,4.6],[0.977,0.4],[0.979,-0.8],[0.98,3.0],[0.982,7.8],[0.983,1.4],[0.984,5.5],[0.986,-2.2],[0.988,2.5],[0.989,0.7],[0.991,4.0],[0.993,1.8],[0.995,6.9],[0.997,3.5],
  [0.004,-3.8],[0.013,-7.0],[0.023,-5.3],[0.031,-2.4],[0.042,-6.4],[0.05,-4.0],[0.061,-7.9],[0.069,-5.6],[0.078,-2.8],[0.088,-6.9],[0.096,-3.4],[0.104,-5.0],[0.116,-7.6],[0.123,-4.6],[0.132,-2.2],[0.142,-6.2],[0.152,-3.9],[0.161,-7.3],[0.168,-5.5],[0.178,-2.0],[0.187,-6.5],[0.195,-4.2],[0.203,-7.7],[0.211,-3.6],[0.221,-5.8],[0.232,-2.5],[0.242,-7.1],[0.25,-4.8],[0.259,-3.0],[0.267,-6.6],[0.278,-4.1],[0.288,-5.6],[0.296,-2.3],[0.304,-6.8],[0.316,-4.5],[0.324,-3.2],[0.333,-7.0],[0.344,-4.0],[0.35,-2.0],[0.36,-5.1],[0.368,-3.5],[0.376,-6.4],[0.384,-1.8],[0.392,-4.6],[0.4,-2.7],[0.408,-5.0],[0.415,-1.6],[0.425,-3.9],[0.433,-0.9],[0.44,-2.9],[0.448,-4.1],[0.456,-0.6],[0.465,-2.6],[0.474,0.3],[0.483,-1.9],[0.492,-0.2],
  [0.504,3.0],[0.512,5.8],[0.52,1.6],[0.53,4.4],[0.54,2.9],[0.55,6.1],[0.56,3.8],[0.57,1.9],[0.58,5.2],[0.59,2.6],[0.6,6.6],[0.61,3.4],[0.62,1.2],[0.63,5.5],[0.64,3.1],[0.65,7.0],[0.66,2.2],[0.67,4.5],[0.68,6.3],[0.69,3.8],[0.7,1.8],[0.71,5.0],[0.72,3.2],[0.73,7.4],[0.74,2.5],[0.75,5.9],[0.76,3.6],[0.77,1.4],[0.78,6.0],[0.79,4.1],[0.8,2.3],[0.81,6.8],[0.82,3.9],[0.83,5.6],[0.84,1.9],[0.85,4.8],[0.86,7.2],[0.87,3.0],[0.88,5.3],[0.89,2.0],[0.9,6.0],[0.91,4.3],[0.92,2.8],[0.93,6.6],[0.94,3.5],[0.95,5.1],[0.96,1.7],[0.97,4.7],[0.98,6.3],[0.99,2.9],[0.615,8.1],[0.705,8.8],[0.795,9.2],[0.875,8.0],[0.955,9.9],[0.655,0.7],[0.745,0.9],[0.835,0.3],[0.925,0.6],[0.565,1.0],
];

// ---------------- helpers ----------------
const font = (size = FONT_SIZE, style = '') => `${style ? style + ' ' : ''}${size}px ${FONT_FAMILY}`;
const fmtInt = (v: number) => (v < 0 ? '\u2212' + Math.abs(v) : String(v));
const fmtDot = (v: number) => (v === 0 ? '0' : v === 1 ? '1' : v.toFixed(1).replace('.', '\u00b7'));
const toXY = (pts: number[][]) => pts.map(([x, y]) => ({ x, y }));

function xScale(range: number[], ticks: number[], fmt: (v: number) => string, height: number, title: string | null, titlePadBottom: number) {
  return {
    type: 'linear',
    position: 'bottom',
    min: range[0],
    max: range[1],
    offset: false,
    afterBuildTicks: (s: any) => { s.ticks = ticks.map((v) => ({ value: v })); },
    afterFit: (s: any) => { s.height = height; s.paddingLeft = 0; s.paddingRight = 0; },
    ticks: { autoSkip: false, maxRotation: 0, minRotation: 0, padding: 14.4, color: INK, font: { family: FONT_FAMILY, size: FONT_SIZE }, callback: (v: number) => fmt(v) },
    grid: { display: true, offset: false, drawOnChartArea: false, drawTicks: true, tickLength: -8, color: INK, lineWidth: 1, z: 1 },
    border: { display: true, color: INK, width: 1, z: 2 },
    title: title
      ? { display: true, text: title, color: INK, font: { family: FONT_FAMILY, size: FONT_SIZE }, padding: { top: 0, bottom: titlePadBottom } }
      : { display: false },
  };
}

function yScale(range: number[], ticks: number[], fmt: (v: number) => string, width: number, title: string, titlePadTop: number) {
  return {
    type: 'linear',
    position: 'left',
    min: range[0],
    max: range[1],
    afterBuildTicks: (s: any) => { s.ticks = ticks.map((v) => ({ value: v })); },
    afterFit: (s: any) => { s.width = width; s.paddingTop = 0; s.paddingBottom = 0; },
    ticks: { autoSkip: false, padding: 18, color: INK, font: { family: FONT_FAMILY, size: FONT_SIZE }, callback: (v: number) => fmt(v) },
    grid: { display: true, drawOnChartArea: false, drawTicks: true, tickLength: -8, color: INK, lineWidth: 1, z: 1 },
    border: { display: true, color: INK, width: 1, z: 2 },
    title: { display: true, text: title, color: INK, font: { family: FONT_FAMILY, size: FONT_SIZE }, padding: { top: titlePadTop, bottom: 0 } },
  };
}

function drawText(ctx: CanvasRenderingContext2D, s: string, x: number, y: number, align: CanvasTextAlign, rot = 0, f = font()) {
  ctx.save();
  ctx.font = f;
  ctx.fillStyle = INK;
  ctx.textAlign = align;
  ctx.textBaseline = 'middle';
  ctx.translate(x, y);
  if (rot) ctx.rotate(rot);
  ctx.fillText(s, 0, 0);
  ctx.restore();
}

function drawArrow(ctx: CanvasRenderingContext2D, x1: number, y1: number, x2: number, y2: number) {
  const ang = Math.atan2(y2 - y1, x2 - x1);
  const len = 12, half = 3.6, notch = 3.5;
  ctx.save();
  ctx.strokeStyle = INK;
  ctx.fillStyle = INK;
  ctx.lineWidth = 1;
  ctx.beginPath();
  ctx.moveTo(x1, y1);
  ctx.lineTo(x2 - Math.cos(ang) * (len - notch), y2 - Math.sin(ang) * (len - notch));
  ctx.stroke();
  ctx.translate(x2, y2);
  ctx.rotate(ang);
  ctx.beginPath();
  ctx.moveTo(0, 0);
  ctx.lineTo(-len, -half);
  ctx.lineTo(-len + notch, 0);
  ctx.lineTo(-len, half);
  ctx.closePath();
  ctx.fill();
  ctx.restore();
}

const baseOptions = {
  responsive: false,
  animation: false,
  events: [],
  plugins: { legend: { display: false }, tooltip: { enabled: false } },
};

// ---------------- configs ----------------
function configA() {
  return {
    type: 'bar',
    data: {
      datasets: [{
        data: toXY(histBinCenters.map((c, i) => [c, histCounts[i]])),
        backgroundColor: 'rgba(255,255,255,0)',
        borderColor: INK,
        borderWidth: 1,
        barPercentage: 1.078,
        categoryPercentage: 1,
      }],
    },
    options: {
      ...baseOptions,
      layout: { padding: { left: 0, right: 39, top: 20, bottom: 0 } },
      scales: {
        x: xScale(histXRange, histXTicks, fmtInt, 82, 'Arrival time difference (days)', 14.9),
        y: yScale(histYRange, histYTicks, fmtInt, 98, 'Frequency', 10),
      },
    },
    plugins: [{
      id: 'notesA',
      afterDraw(chart: any) {
        const ctx = chart.ctx;
        drawText(ctx, '(a)', 113, 39, 'left');
        drawText(ctx, 'Protogyny', 345, 70, 'center');
        drawText(ctx, 'Protandry', 490, 70, 'center');
        drawArrow(ctx, 387, 107.5, 300, 107.5);
        drawArrow(ctx, 444, 107.5, 531, 107.5);
      },
    }],
  };
}

function scatterDatasets(points: number[][], extra: any[] = []) {
  return [
    { data: toXY(zeroLine), showLine: true, borderColor: INK, borderWidth: 1, pointRadius: 0, clip: false },
    ...extra,
    { data: toXY(points), showLine: false, pointRadius: 1.8, pointBackgroundColor: DOT, pointBorderWidth: 0, clip: false },
  ];
}

function sideNotes(ctx: CanvasRenderingContext2D, ax: number, upFrom: number, upTo: number, downFrom: number, downTo: number, tx: number, t1: number, t2: number) {
  drawArrow(ctx, ax, upFrom, ax, upTo);
  drawArrow(ctx, ax, downFrom, ax, downTo);
  drawText(ctx, 'Protandry', tx, t1, 'center', Math.PI / 2);
  drawText(ctx, 'Protogyny', tx, t2, 'center', Math.PI / 2);
}

function configB() {
  return {
    type: 'scatter',
    data: { datasets: scatterDatasets(panelBPoints) },
    options: {
      ...baseOptions,
      layout: { padding: { left: 0, right: 39, top: 20, bottom: 0 } },
      scales: {
        x: xScale([0, 1], rateTicks, fmtDot, 77, null, 0),
        y: yScale(diffRangeB, diffTicks, fmtInt, 98, 'Arrival time difference', 10.5),
      },
    },
    plugins: [{
      id: 'notesB',
      afterDraw(chart: any) {
        const ctx = chart.ctx;
        drawText(ctx, '(b)', 113, 41, 'left');
        sideNotes(ctx, 684.5, 152, 67, 173, 260, 703, 112, 220.5);
        // axis title with italic g and subscript 0
        const p1 = 'Territory acquisition rate ';
        ctx.save();
        ctx.font = font(); const w1 = ctx.measureText(p1).width;
        ctx.font = font(FONT_SIZE, 'italic'); const w2 = ctx.measureText('g').width;
        ctx.font = font(14); const w3 = ctx.measureText('0').width;
        ctx.restore();
        let x = 382 - (w1 + w2 + w3) / 2;
        const y = 356;
        drawText(ctx, p1, x, y, 'left');
        x += w1;
        drawText(ctx, 'g', x, y, 'left', 0, font(FONT_SIZE, 'italic'));
        x += w2 + 0.5;
        drawText(ctx, '0', x, y + 5, 'left', 0, font(14));
      },
    }],
  };
}

function configC() {
  const dashed = { data: toXY(evenSexRatioLine), showLine: true, borderColor: INK, borderWidth: 1, borderDash: [3, 3], pointRadius: 0, clip: false };
  return {
    type: 'scatter',
    data: { datasets: scatterDatasets(panelCPoints, [dashed]) },
    options: {
      ...baseOptions,
      layout: { padding: { left: 0, right: 40, top: 21, bottom: 0 } },
      scales: {
        x: xScale([0, 1], rateTicks, fmtDot, 63, 'Sex ratio (proportion of males)', -1.6),
        y: yScale(diffRangeC, diffTicks, fmtInt, 98, 'Arrival time difference', 10.5),
      },
    },
    plugins: [{
      id: 'notesC',
      afterDraw(chart: any) {
        const ctx = chart.ctx;
        drawText(ctx, '(c)', 113, 39, 'left');
        sideNotes(ctx, 682.5, 134, 48, 158, 243, 702, 95, 203.5);
        drawText(ctx, 'Female bias', 378, 287, 'right');
        drawText(ctx, 'Male bias', 409, 287, 'left');
      },
    }],
  };
}

function ChartCanvas({ top, height, build }: { top: number; height: number; build: () => any }) {
  const ref = useRef<HTMLCanvasElement>(null);
  useEffect(() => {
    const chart = new Chart(ref.current as HTMLCanvasElement, build());
    return () => chart.destroy();
  }, []);
  return (
    <canvas
      ref={ref}
      width={714}
      height={height}
      style={{ position: 'absolute', left: 0, top, width: 714, height, display: 'block' }}
    />
  );
}

export default function App() {
  return (
    <div style={{ position: 'absolute', left: 0, top: 0, width: 714, height: 1146, background: '#fff', overflow: 'hidden' }}>
      <ChartCanvas top={0} height={390} build={configA} />
      <ChartCanvas top={390} height={385} build={configB} />
      <ChartCanvas top={775} height={371} build={configC} />
    </div>
  );
}
